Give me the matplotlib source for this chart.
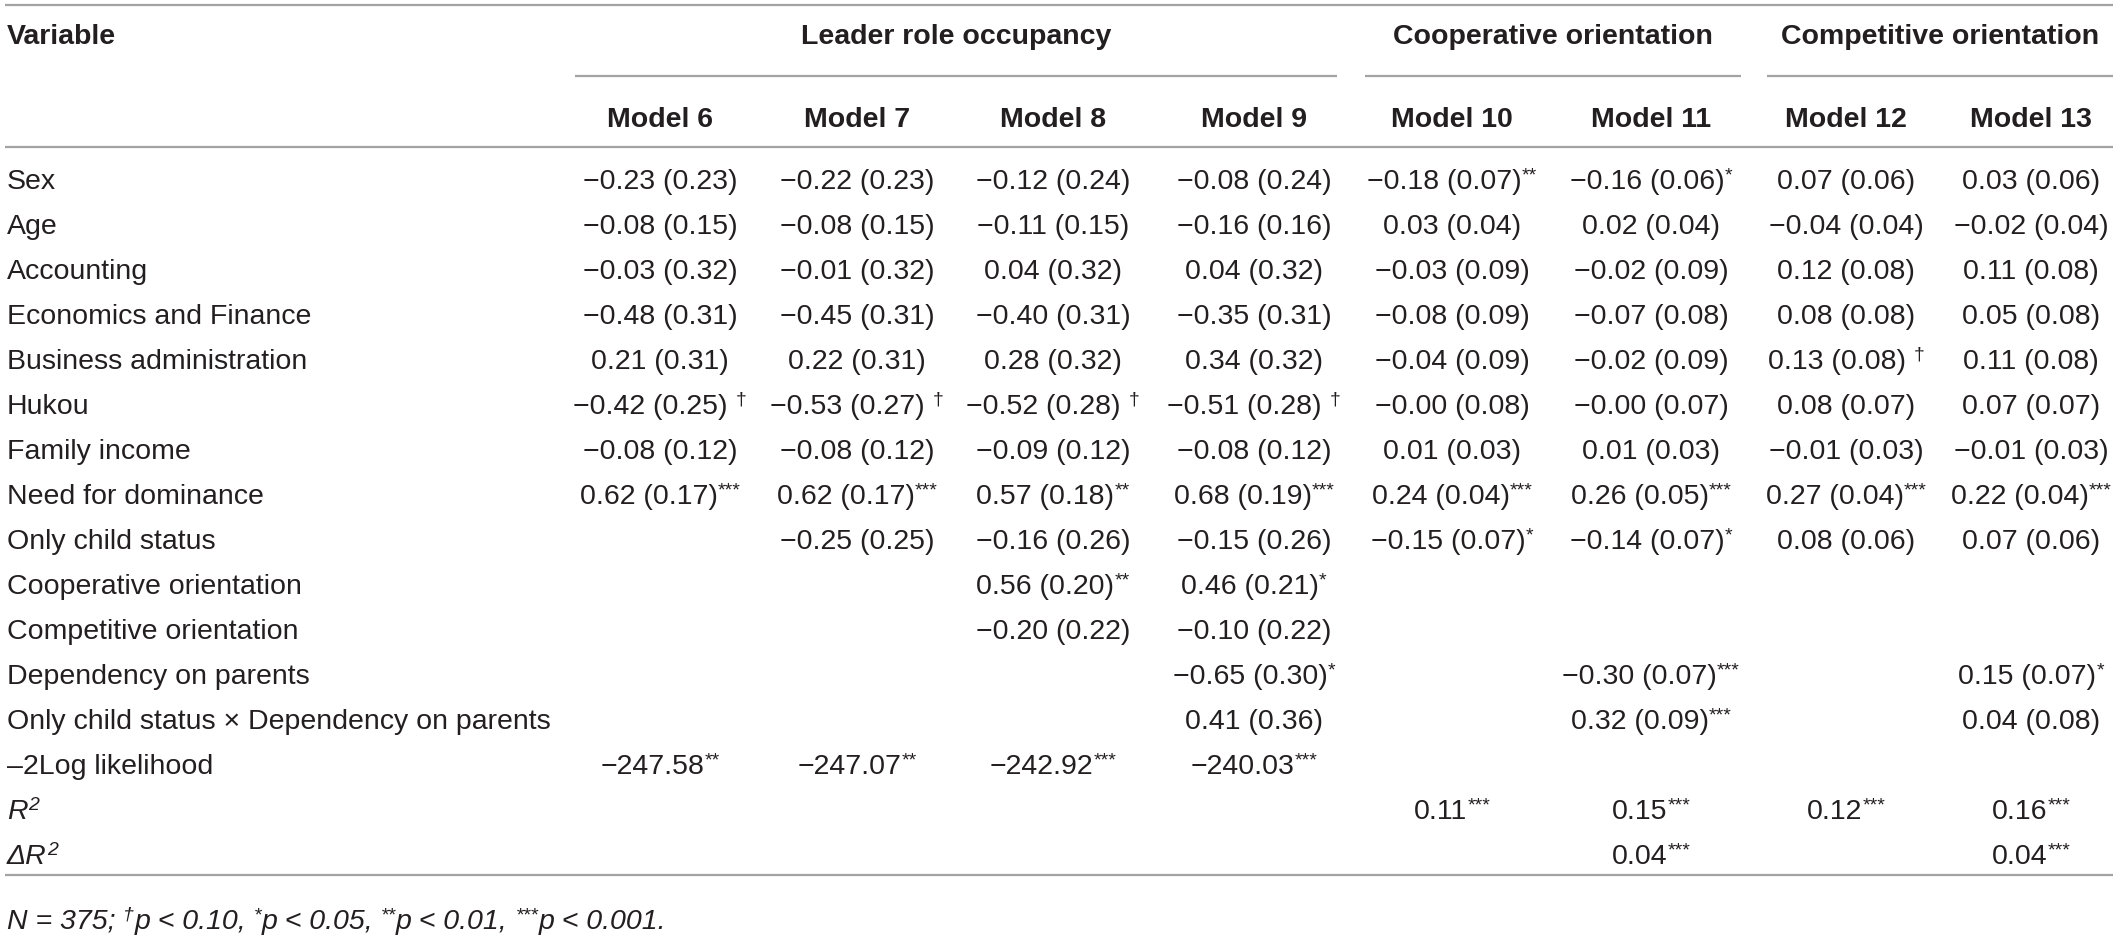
import matplotlib
matplotlib.use("Agg")
import matplotlib.pyplot as plt

# table content
variables = [
    "Sex", "Age", "Accounting", "Economics and Finance", "Business administration",
    "Hukou", "Family income", "Need for dominance", "Only child status",
    "Cooperative orientation", "Competitive orientation", "Dependency on parents",
    "Only child status \u00d7 Dependency on parents", "\u20132Log likelihood", "R2", "dR2",
]
models = ["Model 6", "Model 7", "Model 8", "Model 9", "Model 10", "Model 11", "Model 12", "Model 13"]
groups = ["Leader role occupancy", "Cooperative orientation", "Competitive orientation"]

M = "\u2212"
model_6 = [M+"0.23 (0.23)", M+"0.08 (0.15)", M+"0.03 (0.32)", M+"0.48 (0.31)", "0.21 (0.31)",
           M+"0.42 (0.25) \u2020", M+"0.08 (0.12)", "0.62 (0.17)***", "", "", "", "", "",
           M+"247.58**", "", ""]
model_7 = [M+"0.22 (0.23)", M+"0.08 (0.15)", M+"0.01 (0.32)", M+"0.45 (0.31)", "0.22 (0.31)",
           M+"0.53 (0.27) \u2020", M+"0.08 (0.12)", "0.62 (0.17)***", M+"0.25 (0.25)", "", "", "", "",
           M+"247.07**", "", ""]
model_8 = [M+"0.12 (0.24)", M+"0.11 (0.15)", "0.04 (0.32)", M+"0.40 (0.31)", "0.28 (0.32)",
           M+"0.52 (0.28) \u2020", M+"0.09 (0.12)", "0.57 (0.18)**", M+"0.16 (0.26)", "0.56 (0.20)**",
           M+"0.20 (0.22)", "", "", M+"242.92***", "", ""]
model_9 = [M+"0.08 (0.24)", M+"0.16 (0.16)", "0.04 (0.32)", M+"0.35 (0.31)", "0.34 (0.32)",
           M+"0.51 (0.28) \u2020", M+"0.08 (0.12)", "0.68 (0.19)***", M+"0.15 (0.26)", "0.46 (0.21)*",
           M+"0.10 (0.22)", M+"0.65 (0.30)*", "0.41 (0.36)", M+"240.03***", "", ""]
model_10 = [M+"0.18 (0.07)**", "0.03 (0.04)", M+"0.03 (0.09)", M+"0.08 (0.09)", M+"0.04 (0.09)",
            M+"0.00 (0.08)", "0.01 (0.03)", "0.24 (0.04)***", M+"0.15 (0.07)*", "", "", "", "",
            "", "0.11***", ""]
model_11 = [M+"0.16 (0.06)*", "0.02 (0.04)", M+"0.02 (0.09)", M+"0.07 (0.08)", M+"0.02 (0.09)",
            M+"0.00 (0.07)", "0.01 (0.03)", "0.26 (0.05)***", M+"0.14 (0.07)*", "", "",
            M+"0.30 (0.07)***", "0.32 (0.09)***", "", "0.15***", "0.04***"]
model_12 = ["0.07 (0.06)", M+"0.04 (0.04)", "0.12 (0.08)", "0.08 (0.08)", "0.13 (0.08) \u2020",
            "0.08 (0.07)", M+"0.01 (0.03)", "0.27 (0.04)***", "0.08 (0.06)", "", "", "", "",
            "", "0.12***", ""]
model_13 = ["0.03 (0.06)", M+"0.02 (0.04)", "0.11 (0.08)", "0.05 (0.08)", "0.11 (0.08)",
            "0.07 (0.07)", M+"0.01 (0.03)", "0.22 (0.04)***", "0.07 (0.06)", "", "",
            "0.15 (0.07)*", "0.04 (0.08)", "", "0.16***", "0.04***"]
columns = [model_6, model_7, model_8, model_9, model_10, model_11, model_12, model_13]

W, H = 2118, 937
FONT = "Liberation Sans"
FS = 20.5
SUP = 14
TXT = "#231f20"
LINE = "#a3a3a3"

col_x = [660, 857, 1053, 1254, 1452, 1651, 1846, 2031]
group_span = [(575, 1337), (1365, 1741), (1767, 2113)]

fig = plt.figure(figsize=(W / 100, H / 100), dpi=100)
ax = fig.add_axes([0, 0, 1, 1])
ax.set_xlim(0, W)
ax.set_ylim(H, 0)
ax.axis("off")
renderer = fig.canvas.get_renderer()


def width(s, size, style="normal", weight="normal"):
    t = ax.text(0, 0, s + ".", fontsize=size, family=FONT, style=style, weight=weight)
    d = ax.text(0, 0, ".", fontsize=size, family=FONT, style=style, weight=weight)
    w = t.get_window_extent(renderer).width - d.get_window_extent(renderer).width
    t.remove()
    d.remove()
    return w


def run(x, y, pieces, ha="center", style="normal"):
    # pieces: (text, is_sup)
    ws = [width(s, SUP if sup else FS, style) for s, sup in pieces]
    total = sum(ws)
    cx = x - total / 2 if ha == "center" else x
    for (s, sup), w in zip(pieces, ws):
        ax.text(cx, y - (9 if sup else 0), s, fontsize=SUP if sup else FS, family=FONT,
                style=style, color=TXT, ha="left", va="baseline")
        cx += w


def split_cell(s):
    if s.endswith(" \u2020"):
        return [(s[:-1], False), ("\u2020", True)]
    core = s.rstrip("*")
    stars = s[len(core):]
    return [(core, False)] + ([(stars, True)] if stars else [])


# rules
for y in [6, 148, 876]:
    ax.plot([5, 2113], [y, y], color=LINE, lw=1.6, solid_capstyle="butt")
for x0, x1 in group_span:
    ax.plot([x0, x1], [77, 77], color=LINE, lw=1.6, solid_capstyle="butt")

# header
ax.text(7, 44, "Variable", fontsize=FS, family=FONT, weight="bold", color=TXT, va="baseline")
for g, (x0, x1) in zip(groups, group_span):
    ax.text((x0 + x1) / 2, 44, g, fontsize=FS, family=FONT, weight="bold", color=TXT,
            ha="center", va="baseline")
for m, x in zip(models, col_x):
    ax.text(x, 127, m, fontsize=FS, family=FONT, weight="bold", color=TXT,
            ha="center", va="baseline")

# body
for i, v in enumerate(variables):
    yb = 189 + 45 * i
    if v == "R2":
        run(7, yb, [("R", False), ("2", True)], ha="left", style="italic")
    elif v == "dR2":
        run(7, yb, [("\u0394R", False), ("2", True)], ha="left", style="italic")
    else:
        ax.text(7, yb, v, fontsize=FS, family=FONT, color=TXT, va="baseline")
    for col, x in zip(columns, col_x):
        if col[i]:
            run(x, yb, split_cell(col[i]))

# footnote
run(7, 929, [("N = 375; ", False), ("\u2020", True), ("p < 0.10, ", False), ("*", True),
             ("p < 0.05, ", False), ("**", True), ("p < 0.01, ", False), ("***", True),
             ("p < 0.001.", False)], ha="left", style="italic")

fig.savefig("out.png", dpi=100)
